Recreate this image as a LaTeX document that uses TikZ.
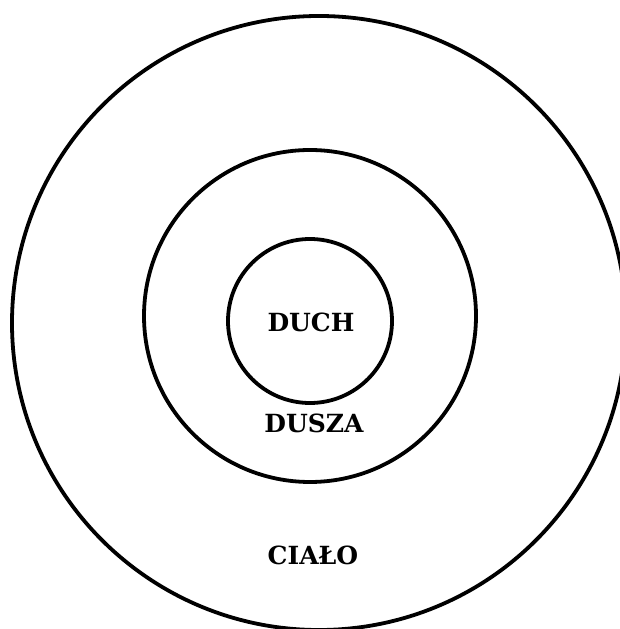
\documentclass[tikz,border=0pt]{standalone}
\usepackage{fontspec}
\setmainfont{DejaVu Serif}
\usepackage{tikz}
\usetikzlibrary{positioning}

\begin{document}
\begin{tikzpicture}[x=1pt, y=1pt,
    ring/.style={draw, circle, line width=3.8pt, inner sep=0pt, outer sep=0pt},
    lbl/.style={font=\fontsize{25}{29}\selectfont\bfseries, inner sep=0pt}]
  \useasboundingbox (0,0) rectangle (620,629);
  \clip (0,0) rectangle (620,629);
  % three rings
  \node[ring, minimum size=614pt] (cialo) at (319,306) {};
  \node[ring, minimum size=332pt] (dusza) at (310,313) {};
  \node[ring, minimum size=164pt] (duch) at (310,308) {};
  % labels
  \node[lbl] (duchtxt) at (311,307) {DUCH};
  \node[lbl] (duszatxt) at (314,206) {DUSZA};
  \node[lbl] (cialotxt) at (313,74) {CIAŁO};
\end{tikzpicture}
\end{document}
